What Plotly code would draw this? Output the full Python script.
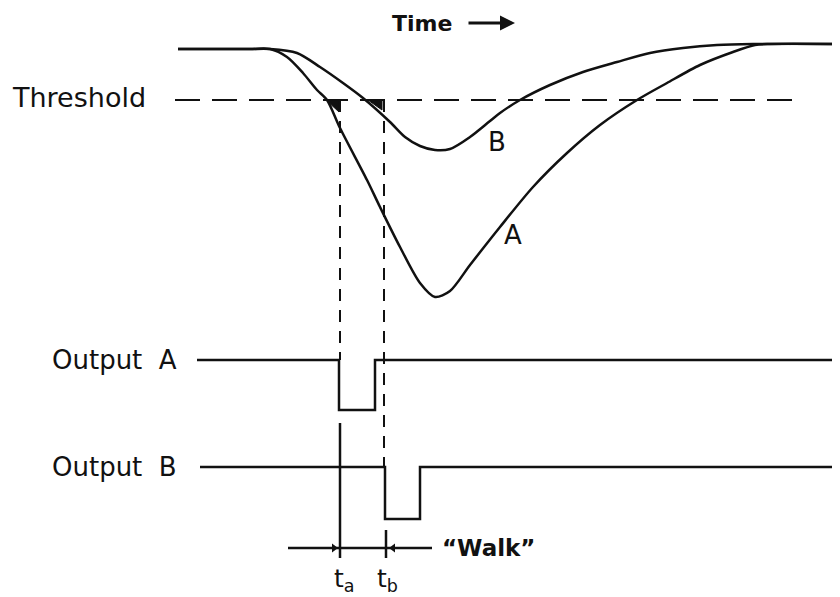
import plotly.graph_objects as go

# time axis (px units of the drawing) and the two detector pulses
pulse_a_t = [178, 250, 270, 287, 303, 317, 327, 340, 367, 380, 400, 420, 435,
             450, 470, 500, 533, 567, 600, 637, 667, 700, 733, 755, 770, 840]
pulse_a_v = [49, 49, 49, 57, 73, 90, 100, 128, 180, 207, 247, 283, 297,
             291, 265, 227, 187, 153, 125, 100, 83, 65, 52, 45, 44, 44]

pulse_b_t = [178, 250, 270, 297, 320, 343, 363, 390, 405, 420, 435, 450, 470,
             490, 500, 520, 550, 583, 617, 650, 683, 717, 753, 840]
pulse_b_v = [49, 49, 49, 53, 67, 83, 98, 122, 137, 146, 150, 149, 137,
             121, 113, 100, 85, 72, 62, 53, 48, 45, 44, 44]

threshold_t = [175, 797]
threshold_v = [100, 100]

t_a = 340
t_b = 384

out_a_t = [197, 339, 339, 375, 375, 840]
out_a_v = [360, 360, 410, 410, 360, 360]
out_b_t = [200, 385, 385, 420, 420, 840]
out_b_v = [467, 467, 519, 519, 467, 467]

walk_t = [288, 432]
walk_v = [548, 548]

tri_a_t = [326, 339, 339, 326]
tri_a_v = [100, 100, 112, 100]
tri_b_t = [368, 382, 382, 368]
tri_b_v = [100, 100, 110, 100]

BLACK = "#111111"
FONT = "DejaVu Sans"

fig = go.Figure()

def line(x, y, width=2.5, dash=None, shape="linear"):
    fig.add_trace(go.Scatter(x=x, y=y, mode="lines", hoverinfo="skip",
                             line=dict(color=BLACK, width=width, dash=dash,
                                       shape=shape, smoothing=0.8)))

line(threshold_t, threshold_v, width=2, dash="25px,12px")
line(pulse_a_t, pulse_a_v, shape="spline")
line(pulse_b_t, pulse_b_v, shape="spline")

# markers on the threshold crossings
for tx, ty in [(tri_a_t, tri_a_v), (tri_b_t, tri_b_v)]:
    fig.add_trace(go.Scatter(x=tx, y=ty, mode="lines", fill="toself",
                             fillcolor=BLACK, hoverinfo="skip",
                             line=dict(color=BLACK, width=1)))

# timing marks
line([t_a, t_a], [100, 360], width=2, dash="12px,9px")
line([t_b, t_b], [100, 467], width=2, dash="12px,9px")
line([t_a, t_a], [423, 558], width=2.5)
line([386, 386], [530, 558], width=2.5)

line(out_a_t, out_a_v)
line(out_b_t, out_b_v)
line(walk_t, walk_v, width=2.5)

fig.add_trace(go.Scatter(x=[334, 393], y=[548, 548], mode="markers",
                         hoverinfo="skip",
                         marker=dict(symbol=["triangle-right", "triangle-left"],
                                     size=8, color=BLACK)))

labels = [
    (10, 97, "Threshold", "left", False, 27),
    (50, 360, "Output\u00a0\u00a0A", "left", False, 26),
    (50, 467, "Output\u00a0\u00a0B", "left", False, 26),
    (497, 142, "B", "center", False, 26),
    (513, 235, "A", "center", False, 26),
    (390, 23, "Time", "left", True, 22),
    (440, 548, "\u201cWalk\u201d", "left", True, 23),
    (t_a + 4, 580, "t<sub>a</sub>", "center", False, 25),
    (t_b + 3, 580, "t<sub>b</sub>", "center", False, 25),
]
for x, y, text, anchor, bold, size in labels:
    fig.add_annotation(x=x, y=y, text=f"<b>{text}</b>" if bold else text,
                       showarrow=False, xanchor=anchor, yanchor="middle",
                       font=dict(family=FONT, size=size, color=BLACK))

fig.add_annotation(x=515, y=23, ax=467, ay=23, axref="x", ayref="y",
                   xref="x", yref="y", text="", showarrow=True,
                   arrowhead=2, arrowsize=1, arrowwidth=3, arrowcolor=BLACK)

# the page puts the plot 8px in from the corner, so start the ranges at 8
fig.update_xaxes(range=[8, 840], visible=False, fixedrange=True)
fig.update_yaxes(range=[597, 8], visible=False, fixedrange=True)
fig.update_layout(width=832, height=589, showlegend=False,
                  margin=dict(l=0, r=0, t=0, b=0),
                  paper_bgcolor="white", plot_bgcolor="white")

fig.write_html("out.html")
